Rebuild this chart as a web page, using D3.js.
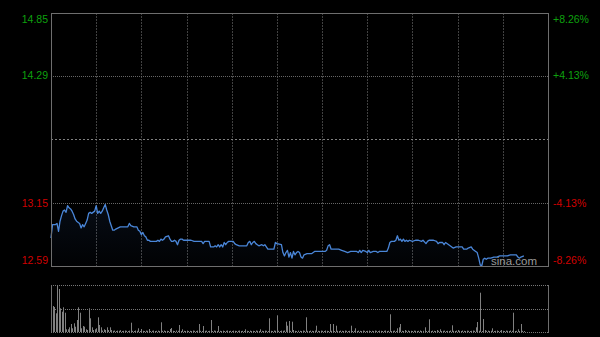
<!DOCTYPE html>
<html><head><meta charset="utf-8">
<script src="https://cdn.jsdelivr.net/npm/d3@7"></script>
<style>
html,body{margin:0;padding:0;background:#000;}
svg{display:block;}
text{font-family:"Liberation Sans",Arial,sans-serif;}
</style></head>
<body>
<svg id="chart" width="600" height="337"></svg>
<script>
// ---- data ----
const prevClose = 13.72;
const priceTicks = [14.85, 14.29, 13.72, 13.15, 12.59];
const priceTickLabels = ["14.85", "14.29", "", "13.15", "12.59"];
const pctTickLabels = ["+8.26%", "+4.13%", "", "-4.13%", "-8.26%"];
const timeGridMinutes = [30, 60, 90, 120, 150, 180, 210, 240, 270, 300];
const totalMinutes = 330;

// trading minute index (from 09:30, lunch removed) and price
const minutes = [0,1,3,4,5,6,7,8,9,10,11,12,13,14,15,16,17,19,20,21,22,23,24,25,26,27,29,30,31,32,33,34,35,36,37,38,39,40,41,42,43,46,49,51,52,53,55,57,58,59,60,61,62,63,64,65,66,68,70,71,72,73,74,75,76,78,79,80,81,82,83,84,85,86,87,88,91,93,95,98,100,101,102,103,105,106,108,109,110,111,112,113,114,115,116,117,118,121,122,123,125,128,130,131,132,133,134,135,136,137,138,140,141,142,143,144,146,148,149,150,153,154,155,156,157,158,159,160,161,162,163,164,165,166,167,168,170,173,175,177,179,182,183,184,185,186,188,191,193,195,197,199,201,203,204,205,206,207,209,210,211,212,214,216,217,218,220,223,224,225,226,228,229,230,231,232,233,234,235,236,237,238,240,242,244,246,247,249,250,251,254,256,257,258,260,261,262,265,267,269,271,273,274,276,277,279,280,282,283,284,285,286,287,288,289,290,292,294,296,298,300,303,305,307,309,310,311,312,314];
const prices = [12.84,12.96,12.96,12.97,12.90,12.99,13.04,13.08,13.09,13.07,13.13,13.11,13.10,13.08,13.05,13.01,12.99,12.97,12.93,12.96,12.94,12.97,13.00,13.06,13.07,13.06,13.08,13.13,13.06,13.08,13.06,13.08,13.11,13.14,13.09,13.05,12.99,12.95,12.91,12.91,12.92,12.94,12.94,12.94,12.97,12.95,12.94,12.94,12.91,12.90,12.87,12.89,12.86,12.85,12.82,12.82,12.81,12.81,12.81,12.82,12.81,12.83,12.82,12.83,12.85,12.86,12.83,12.81,12.81,12.82,12.81,12.78,12.82,12.83,12.83,12.82,12.82,12.82,12.81,12.81,12.81,12.79,12.81,12.81,12.81,12.76,12.76,12.77,12.76,12.78,12.76,12.78,12.76,12.80,12.78,12.80,12.81,12.81,12.79,12.78,12.77,12.77,12.77,12.80,12.81,12.78,12.80,12.81,12.79,12.78,12.77,12.78,12.77,12.78,12.76,12.74,12.74,12.74,12.80,12.79,12.78,12.71,12.68,12.71,12.73,12.67,12.71,12.66,12.72,12.69,12.71,12.72,12.71,12.67,12.66,12.69,12.70,12.70,12.72,12.72,12.72,12.72,12.73,12.77,12.78,12.74,12.74,12.74,12.73,12.72,12.71,12.72,12.72,12.72,12.71,12.73,12.71,12.73,12.72,12.71,12.73,12.71,12.72,12.72,12.71,12.72,12.72,12.72,12.75,12.80,12.81,12.81,12.82,12.86,12.82,12.83,12.81,12.83,12.81,12.82,12.81,12.82,12.81,12.82,12.82,12.81,12.82,12.79,12.81,12.82,12.82,12.81,12.79,12.80,12.80,12.78,12.80,12.77,12.75,12.76,12.76,12.76,12.74,12.74,12.75,12.76,12.74,12.72,12.71,12.66,12.60,12.59,12.65,12.66,12.65,12.66,12.66,12.67,12.67,12.68,12.68,12.68,12.69,12.69,12.69,12.67,12.66,12.67,12.68];

// per-minute volume (thousand shares), minute 0..314
const volumes = [
430,260,250,187,470,430,237,203,247,193,
27,27,47,80,37,87,53,120,247,193,
37,60,53,27,20,237,137,47,20,27,
37,147,70,47,15,27,20,47,20,47,
20,12,15,10,14,12,18,10,12,15,
12,10,14,93,12,10,15,12,37,10,
30,12,10,14,12,30,10,12,15,10,
12,14,10,97,12,15,10,12,10,30,
40,12,10,15,12,70,10,27,12,10,
14,10,12,10,15,12,10,14,80,12,
10,60,12,14,10,12,120,10,15,12,
10,60,12,10,14,10,12,15,10,12,
10,14,12,10,12,15,10,12,10,27,
12,10,14,10,12,10,15,12,10,27,
12,10,14,12,10,137,12,10,15,12,
167,12,10,14,12,15,103,63,110,12,
103,20,12,10,14,12,10,15,12,147,
12,10,14,12,10,15,63,12,10,14,
12,10,15,12,10,80,12,80,10,63,
12,10,14,12,10,15,12,10,12,63,
10,12,37,10,14,12,10,15,12,10,
12,14,10,12,10,15,12,10,14,12,
10,12,15,10,12,177,10,12,14,10,
37,47,80,12,10,20,12,15,10,12,
10,14,12,10,12,15,10,12,47,10,
12,127,10,14,12,10,20,12,27,10,
12,14,10,12,10,15,67,12,10,14,
20,12,10,15,12,10,14,12,10,12,
15,12,47,100,12,393,10,130,20,12,
14,10,12,37,10,12,15,10,12,20,
12,10,14,12,10,15,12,193,10,12,
27,10,80,12,10];

// ---- drawing ----
const svg = d3.select("#chart");
const L = 51, R = 548, T = 13, B = 266;
const VT = 285, VB = 332;

const x = d3.scaleLinear().domain([0, totalMinutes]).range([L, R]);
const y = d3.scaleLinear().domain([priceTicks[priceTicks.length-1], priceTicks[0]]).range([B, T]);
const vy = d3.scaleLinear().domain([0, d3.max(volumes)]).range([VB, VT]);

const defs = svg.append("defs");
const grad = defs.append("linearGradient").attr("id","fillg").attr("x1",0).attr("y1",0).attr("x2",0).attr("y2",1);
grad.append("stop").attr("offset","0%").attr("stop-color","#3c6ebe").attr("stop-opacity",0.11);
grad.append("stop").attr("offset","100%").attr("stop-color","#3c6ebe").attr("stop-opacity",0.02);

// vertical grid
svg.append("g").selectAll("line").data(timeGridMinutes).join("line")
  .attr("x1", d => Math.round(x(d)) + 0.5).attr("x2", d => Math.round(x(d)) + 0.5)
  .attr("y1", T).attr("y2", B)
  .attr("stroke", "#414141").attr("stroke-dasharray", "2,1");

// horizontal grid
svg.append("g").selectAll("line").data(priceTicks.slice(1, -1)).join("line")
  .attr("x1", L).attr("x2", R)
  .attr("y1", d => Math.round(y(d)) + 0.5).attr("y2", d => Math.round(y(d)) + 0.5)
  .attr("stroke", d => d === prevClose ? "#808080" : "#666")
  .attr("stroke-dasharray", d => d === prevClose ? "2,2" : "1,1");

// area + line
const pts = minutes.map((m, i) => [m, prices[i]]);
svg.append("path").datum(pts)
  .attr("d", d3.area().x(d => x(d[0])).y0(B).y1(d => y(d[1])))
  .attr("fill", "url(#fillg)");
svg.append("path").datum(pts)
  .attr("d", d3.line().x(d => x(d[0])).y(d => y(d[1])))
  .attr("fill", "none").attr("stroke", "#4a86d8").attr("stroke-width", 1.3)
  .attr("stroke-linejoin", "round");

// main frame
svg.append("rect").attr("x", L + 0.5).attr("y", T + 0.5).attr("width", R - L).attr("height", B - T)
  .attr("fill", "none").attr("stroke", "#6e6e6e");

// axis labels
const lab = svg.append("g").attr("font-size", "10.5px");
priceTicks.forEach((v, i) => {
  if (!priceTickLabels[i]) return;
  let yy = y(v);
  if (i === 0) yy += 6;
  if (i === priceTicks.length - 1) yy -= 6;
  const col = v > prevClose ? "#0ea00e" : "#d00000";
  lab.append("text").attr("x", 48).attr("y", yy).attr("dy", "0.36em")
    .attr("text-anchor", "end").attr("fill", col).text(priceTickLabels[i]);
  lab.append("text").attr("x", 553).attr("y", yy).attr("dy", "0.36em")
    .attr("text-anchor", "start").attr("fill", col).text(pctTickLabels[i]);
});

// watermark
svg.append("text").attr("x", 537).attr("y", 265).attr("text-anchor", "end")
  .attr("font-size", "11.5px").attr("fill", "#9a9a9a").text("sina.com");

// volume panel
svg.append("g").selectAll("rect").data(volumes).join("rect")
  .attr("x", (d, i) => Math.round(x(i)))
  .attr("y", d => vy(d))
  .attr("width", 1)
  .attr("height", d => VB - vy(d))
  .attr("fill", "#808080");

const vmid = (VT + VB) / 2;
[VT, vmid, VB].forEach(yy => {
  svg.append("line").attr("x1", L).attr("x2", R)
    .attr("y1", Math.round(yy) + 0.5).attr("y2", Math.round(yy) + 0.5)
    .attr("stroke", "#777").attr("stroke-dasharray", "1,1");
});
[L, R].forEach(xx => {
  svg.append("line").attr("x1", xx + 0.5).attr("x2", xx + 0.5)
    .attr("y1", VT).attr("y2", VB + 1).attr("stroke", "#6e6e6e");
});
</script>
</body></html>
